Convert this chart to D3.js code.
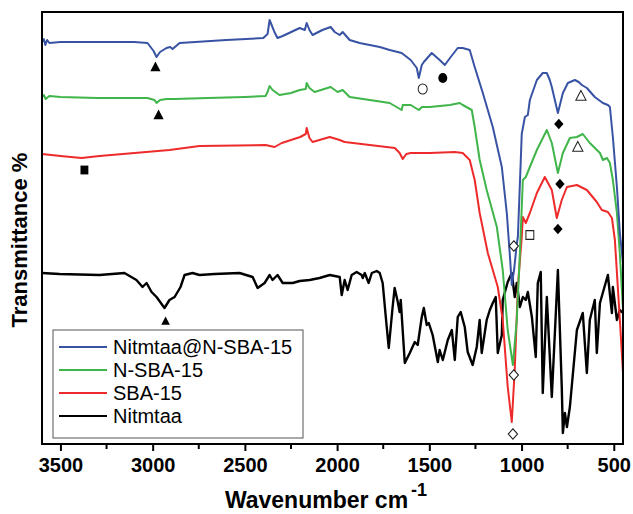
<!DOCTYPE html>
<html>
<head>
<meta charset="utf-8">
<script src="https://cdn.jsdelivr.net/npm/d3@7"></script>
<style>
  body { margin: 0; background: #fff; }
  svg { font-family: "Liberation Sans", Arial, sans-serif; }
</style>
</head>
<body>
<svg id="chart" width="633" height="514"></svg>
<script>
// wavenumber (cm-1), transmittance (a.u., curves are offset)
var blueData = [
  [3600, 402], [3590, 405], [3582, 399], [3572, 404], [3560, 401], [3500, 402], [3300, 402],
  [3100, 402], [3028, 401], [2995, 393], [2979, 387], [2960, 392], [2925, 396], [2905, 397],
  [2892, 395], [2854, 401], [2600, 404], [2400, 406], [2377, 410], [2366, 424], [2355, 419],
  [2340, 412], [2323, 406], [2295, 408], [2203, 416], [2175, 414], [2165, 421], [2150, 414],
  [2133, 409], [2080, 414], [2035, 417], [2013, 412], [1986, 409], [1970, 412], [1932, 404],
  [1878, 401], [1769, 397], [1715, 394], [1650, 391], [1601, 384], [1568, 376], [1557, 366],
  [1541, 379], [1530, 382], [1487, 391], [1444, 384], [1416, 379], [1384, 387], [1346, 396],
  [1319, 396], [1281, 394], [1254, 377], [1210, 351], [1156, 317], [1107, 277], [1080, 231],
  [1062, 185], [1053, 159], [1040, 175], [1026, 200], [1020, 207], [1005, 280], [999, 310],
  [982, 327], [966, 329], [955, 344], [917, 364], [885, 371], [863, 371], [847, 364], [836, 357],
  [803, 331], [776, 351], [749, 361], [711, 364], [690, 362], [673, 359], [646, 356], [603, 347],
  [559, 341], [532, 339], [521, 337], [505, 307], [483, 257], [467, 211], [450, 181]
];
var greenData = [
  [3600, 347], [3590, 349], [3580, 345], [3560, 348], [3500, 347], [3300, 346], [3028, 346],
  [2990, 344], [2979, 341], [2960, 344], [2925, 345], [2881, 345], [2700, 346], [2500, 347],
  [2388, 348], [2377, 352], [2366, 358], [2350, 354], [2312, 349], [2250, 351], [2203, 354],
  [2170, 355], [2165, 361], [2150, 356], [2122, 352], [2070, 355], [2035, 357], [1997, 352],
  [1970, 354], [1932, 347], [1823, 344], [1715, 341], [1650, 334], [1644, 339], [1601, 339],
  [1557, 334], [1540, 337], [1498, 337], [1389, 339], [1335, 341], [1319, 339], [1270, 334],
  [1254, 317], [1227, 284], [1189, 254], [1134, 217], [1102, 174], [1075, 114], [1047, 79],
  [1026, 124], [1009, 191], [993, 264], [977, 267], [955, 277], [917, 294], [863, 314],
  [836, 301], [803, 271], [776, 291], [738, 306], [700, 307], [668, 310], [630, 301],
  [575, 291], [559, 284], [537, 286], [521, 281], [505, 264], [483, 231], [467, 190], [450, 134]
];
var redData = [
  [3600, 290], [3500, 288], [3386, 286], [3288, 288], [2909, 294], [2746, 298], [2388, 299],
  [2339, 297], [2300, 301], [2200, 307], [2170, 310], [2165, 316], [2150, 306], [2133, 302],
  [2040, 307], [1986, 304], [1959, 302], [1823, 299], [1687, 296], [1661, 291], [1644, 285],
  [1625, 290], [1601, 291], [1498, 291], [1362, 292], [1319, 291], [1281, 284], [1254, 264],
  [1227, 231], [1183, 191], [1129, 157], [1102, 124], [1075, 57], [1053, 22], [1037, 74],
  [1020, 157], [999, 207], [993, 227], [977, 221], [955, 231], [917, 251], [874, 267],
  [836, 254], [809, 226], [782, 244], [754, 257], [700, 259], [646, 254], [592, 242],
  [565, 234], [532, 232], [510, 226], [494, 204], [467, 124], [450, 71]
];
var blackData = [
  [3600, 171], [3505, 170], [3288, 169], [3153, 171], [3088, 164], [3055, 157], [3033, 161],
  [3006, 152], [2979, 147], [2936, 136], [2909, 144], [2881, 147], [2849, 157], [2827, 169],
  [2784, 171], [2746, 169], [2664, 170], [2529, 171], [2458, 167], [2431, 156], [2393, 161],
  [2366, 169], [2350, 164], [2323, 169], [2295, 161], [2241, 161], [2203, 163], [2149, 164],
  [2095, 166], [2040, 169], [1986, 167], [1975, 149], [1959, 164], [1943, 154], [1921, 169],
  [1894, 172], [1867, 169], [1861, 166], [1850, 171], [1829, 161], [1812, 171], [1785, 173],
  [1769, 171], [1753, 161], [1731, 117], [1720, 96], [1699, 137], [1688, 156], [1671, 142],
  [1661, 132], [1655, 144], [1633, 81], [1606, 91], [1579, 102], [1563, 99], [1541, 127],
  [1530, 136], [1514, 119], [1503, 121], [1482, 109], [1454, 82], [1444, 94], [1427, 84],
  [1400, 104], [1378, 114], [1362, 84], [1346, 127], [1330, 132], [1308, 117], [1292, 92],
  [1265, 79], [1243, 97], [1227, 124], [1216, 91], [1189, 124], [1172, 134], [1156, 141],
  [1140, 147], [1129, 91], [1107, 109], [1102, 144], [1075, 162], [1053, 171], [1037, 147],
  [1026, 161], [1009, 137], [993, 147], [977, 144], [966, 152], [944, 127], [923, 87],
  [912, 161], [896, 172], [885, 51], [863, 147], [836, 47], [803, 174], [782, 57], [776, 11],
  [765, 31], [754, 17], [738, 37], [700, 114], [668, 131], [646, 71], [630, 124], [603, 144],
  [592, 91], [575, 141], [532, 169], [510, 131], [505, 157], [483, 124], [467, 134], [450, 131]
];

var seriesNames = ["Nitmtaa@N-SBA-15", "N-SBA-15", "SBA-15", "Nitmtaa"];
var seriesColors = ["#3953a4", "#3fb54a", "#ee2b2b", "#000000"];
var majorTicks = [3500, 3000, 2500, 2000, 1500, 1000, 500];
var minorTicks = [3250, 2750, 2250, 1750, 1250, 750];

// peak markers: symbol, wavenumber, value, filled?
var markers = [
  ["triangle", 2985, 376, true], ["triangle", 2968, 328, true], ["triangleS", 2930, 122, true],
  ["square", 3370, 274, true], ["circle", 1536, 355, false], ["circle", 1427, 366, true],
  ["triangle", 678, 347, false], ["triangle", 695, 296, false],
  ["diamond", 798, 320, true], ["diamond", 792, 260, true], ["diamond", 803, 215, true],
  ["square", 955, 209, false],
  ["diamond", 1042, 198, false], ["diamond", 1042, 69, false], ["diamond", 1047, 10, false]
];

var W = 633, H = 514;
var margin = {left: 42, right: 10, top: 12, bottom: 70};
var svg = d3.select("#chart");

var x = d3.scaleLinear().domain([3600, 450]).range([margin.left, W - margin.right]);
var y = d3.scaleLinear().domain([0, 432]).range([H - margin.bottom, margin.top]);

var line = d3.line()
  .x(function(d) { return x(d[0]); })
  .y(function(d) { return y(d[1]); });

svg.append("clipPath").attr("id", "plotclip")
  .append("rect")
  .attr("x", margin.left).attr("y", margin.top)
  .attr("width", W - margin.right - margin.left)
  .attr("height", H - margin.bottom - margin.top);

var plot = svg.append("g").attr("clip-path", "url(#plotclip)");
var allData = [blueData, greenData, redData, blackData];

// draw black first so colored curves sit on top
[3, 2, 1, 0].forEach(function(i) {
  plot.append("path")
    .datum(allData[i])
    .attr("fill", "none")
    .attr("stroke", seriesColors[i])
    .attr("stroke-width", i === 3 ? 2.4 : 2)
    .attr("stroke-linejoin", "round")
    .attr("d", line);
});

// markers
var symbolTypes = {
  triangle: [d3.symbolTriangle, 45],
  triangleS: [d3.symbolTriangle, 32],
  square: [d3.symbolSquare, 62],
  circle: [d3.symbolCircle, 64],
  diamond: [d3.symbolDiamond2, 56]
};
svg.selectAll(".mk")
  .data(markers)
  .enter().append("path")
  .attr("class", "mk")
  .attr("transform", function(d) { return "translate(" + x(d[1]) + "," + y(d[2]) + ") scale(1,1.12)"; })
  .attr("d", function(d) { return d3.symbol().type(symbolTypes[d[0]][0]).size(symbolTypes[d[0]][1])(); })
  .attr("fill", function(d) { return d[3] ? "#000" : "#fff"; })
  .attr("stroke", function(d) { return d[3] ? "none" : "#222"; })
  .attr("stroke-width", 1);

// x axis
var xAxis = svg.append("g")
  .attr("transform", "translate(0," + (H - margin.bottom) + ")")
  .call(d3.axisBottom(x).tickValues(majorTicks).tickSize(7).tickPadding(7).tickFormat(d3.format("d")));
xAxis.select(".domain").remove();
xAxis.selectAll(".tick line").attr("stroke-width", 2);
xAxis.selectAll(".tick text")
  .attr("font-size", 20).attr("font-weight", "bold").attr("fill", "#000")
  .attr("font-family", "Liberation Sans, Arial, sans-serif");

svg.append("g")
  .selectAll("line")
  .data(minorTicks)
  .enter().append("line")
  .attr("x1", function(d) { return x(d); })
  .attr("x2", function(d) { return x(d); })
  .attr("y1", H - margin.bottom)
  .attr("y2", H - margin.bottom + 5)
  .attr("stroke", "#000").attr("stroke-width", 2);

// frame
svg.append("rect")
  .attr("x", margin.left).attr("y", margin.top)
  .attr("width", W - margin.right - margin.left)
  .attr("height", H - margin.bottom - margin.top)
  .attr("fill", "none").attr("stroke", "#000").attr("stroke-width", 2);

// axis titles
var xt = svg.append("text")
  .attr("x", 326).attr("y", 508)
  .attr("text-anchor", "middle")
  .attr("font-size", 23).attr("font-weight", "bold");
xt.append("tspan").text("Wavenumber cm");
xt.append("tspan").attr("dx", 3).attr("dy", -12).attr("font-size", 18).text("-1");

svg.append("text")
  .attr("transform", "translate(27,240) rotate(-90)")
  .attr("text-anchor", "middle")
  .attr("font-size", 22).attr("font-weight", "bold")
  .text("Transmittance %");

// legend
var legend = svg.append("g");
legend.append("rect")
  .attr("x", 53).attr("y", 330).attr("width", 250).attr("height", 108)
  .attr("fill", "#fff").attr("stroke", "#555").attr("stroke-width", 1);
seriesNames.forEach(function(name, i) {
  var ly = 347 + i * 23;
  legend.append("line")
    .attr("x1", 59).attr("x2", 107).attr("y1", ly).attr("y2", ly)
    .attr("stroke", seriesColors[i]).attr("stroke-width", 2);
  legend.append("text")
    .attr("x", 113).attr("y", ly + 7)
    .attr("font-size", 20)
    .text(name);
});
</script>
</body>
</html>
